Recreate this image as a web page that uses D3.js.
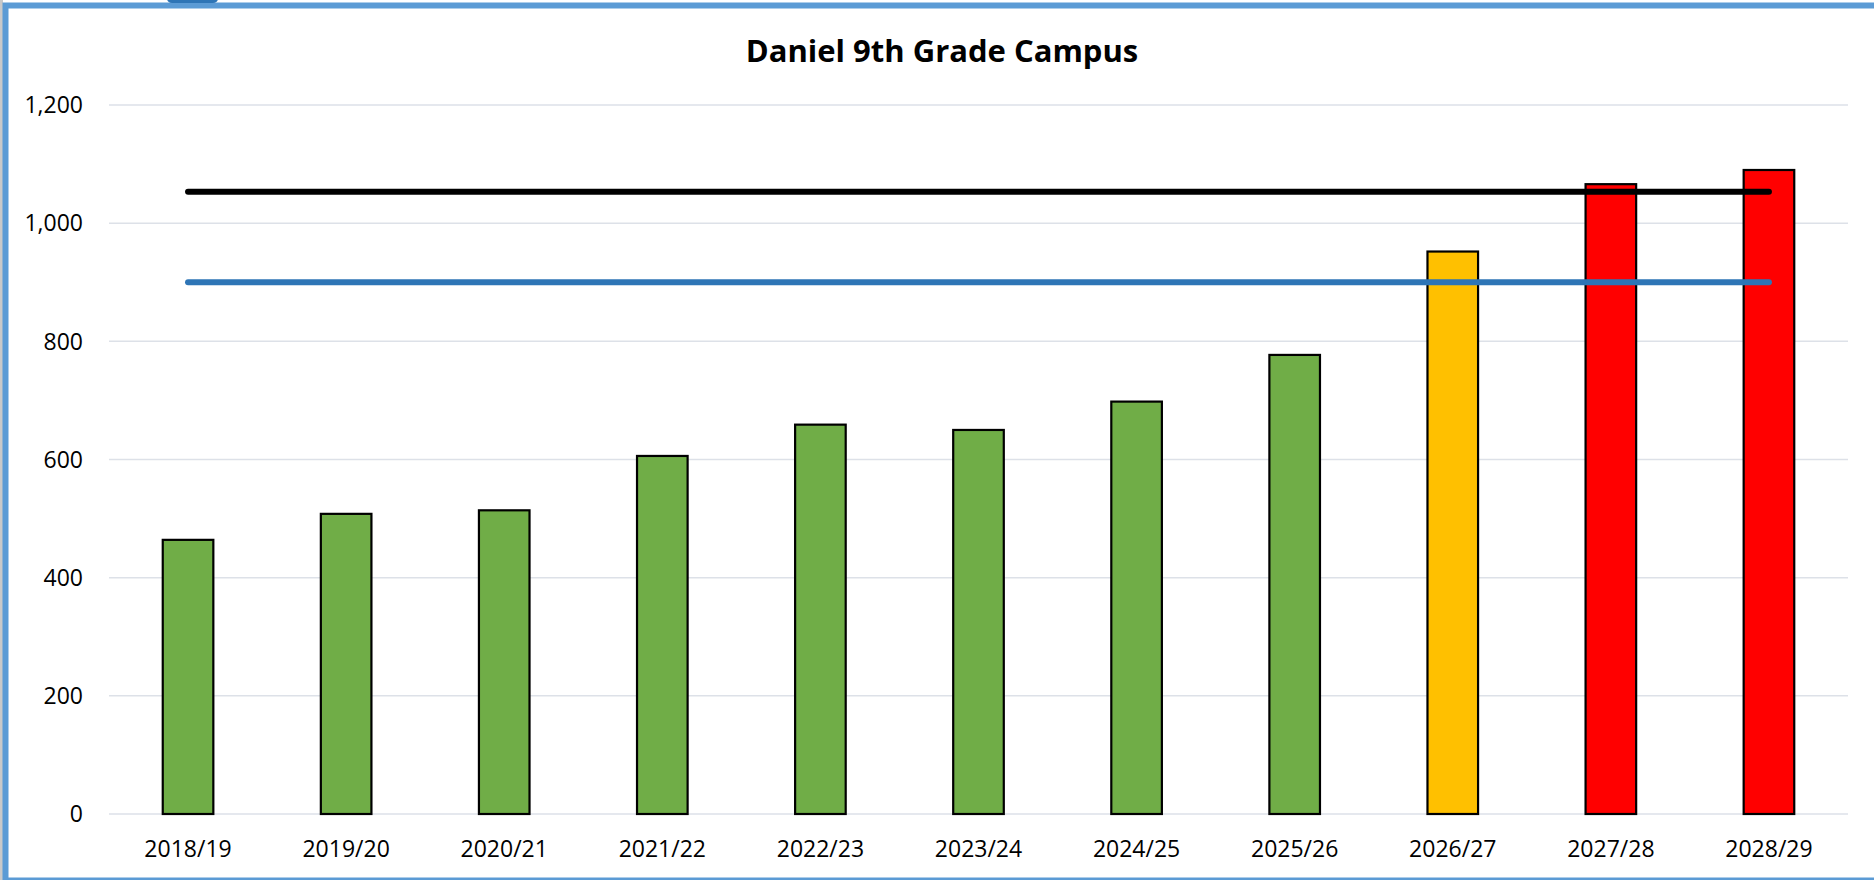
<!DOCTYPE html>
<html>
<head>
<meta charset="utf-8">
<script src="https://cdn.jsdelivr.net/npm/d3@7"></script>
<style>
  body { margin: 0; background: #fff; overflow: hidden; }
  text { font-family: "Open Sans", "Noto Sans", sans-serif; fill: #000; }
</style>
</head>
<body>
<div id="wrapper"></div>
<script>
// data
var YEARS = ["2018/19", "2019/20", "2020/21", "2021/22", "2022/23", "2023/24",
             "2024/25", "2025/26", "2026/27", "2027/28", "2028/29"];
var ENROLLMENT = [464, 508, 514, 606, 659, 650, 698, 777, 952, 1066, 1090];
var BAR_COLORS = ["#70ad47", "#70ad47", "#70ad47", "#70ad47", "#70ad47", "#70ad47",
                  "#70ad47", "#70ad47", "#ffc000", "#ff0000", "#ff0000"];
var CAPACITY = 1053;   // black line
var TARGET = 900;      // blue line
var Y_TICKS = [0, 200, 400, 600, 800, 1000, 1200];
var TITLE = "Daniel 9th Grade Campus";

function build() {
    var dimension = {
        width: 1874,
        height: 880,
        margin: { top: 105, right: 26, bottom: 66, left: 109 }
    };

    const svg = d3.select("#wrapper")
        .append("svg")
        .attr("width", dimension.width)
        .attr("height", dimension.height);

    // frame round the chart
    svg.append("rect").attr("x", 0).attr("y", 0).attr("width", 3).attr("height", 880).attr("fill", "#c9c9c9");
    svg.append("rect")
        .attr("x", 5.5).attr("y", 5.5)
        .attr("width", 1900).attr("height", 875)
        .attr("fill", "#fff")
        .attr("stroke", "#5b9bd5")
        .attr("stroke-width", 6);
    svg.append("rect").attr("x", 167).attr("y", -6).attr("width", 51).attr("height", 9)
        .attr("rx", 5).attr("fill", "#2e75b6");

    const x = d3.scaleBand()
        .domain(YEARS)
        .range([dimension.margin.left, dimension.width - dimension.margin.right])
        .paddingInner(0.68)
        .paddingOuter(0.34);

    const y = d3.scaleLinear()
        .domain([0, 1200])
        .range([dimension.height - dimension.margin.bottom, dimension.margin.top]);

    // gridlines
    svg.append("g")
        .selectAll("line")
        .data(Y_TICKS)
        .enter()
        .append("line")
        .attr("x1", dimension.margin.left)
        .attr("x2", dimension.width - dimension.margin.right)
        .attr("y1", d => y(d))
        .attr("y2", d => y(d))
        .attr("stroke", "#dde1e8")
        .attr("stroke-width", 1.5);

    // y labels
    svg.append("g")
        .selectAll("text")
        .data(Y_TICKS)
        .enter()
        .append("text")
        .attr("x", 83)
        .attr("y", d => y(d))
        .attr("dy", "0.36em")
        .style("text-anchor", "end")
        .style("font-size", "23px")
        .text(d => d3.format(",")(d));

    // bars
    svg.append("g")
        .selectAll("rect")
        .data(ENROLLMENT)
        .enter()
        .append("rect")
        .attr("x", (d, i) => x(YEARS[i]))
        .attr("y", d => y(d))
        .attr("width", x.bandwidth())
        .attr("height", d => y(0) - y(d))
        .attr("fill", (d, i) => BAR_COLORS[i])
        .attr("stroke", "#000")
        .attr("stroke-width", 2.2);

    // x labels
    svg.append("g")
        .selectAll("text")
        .data(YEARS)
        .enter()
        .append("text")
        .attr("x", d => x(d) + x.bandwidth() / 2)
        .attr("y", 857)
        .style("text-anchor", "middle")
        .style("font-size", "23px")
        .text(d => d);

    // horizontal reference lines
    var first = x(YEARS[0]) + x.bandwidth() / 2;
    var last = x(YEARS[YEARS.length - 1]) + x.bandwidth() / 2;
    [[CAPACITY, "#000"], [TARGET, "#2e75b6"]].forEach(([v, c]) => {
        svg.append("line")
            .attr("x1", first).attr("x2", last)
            .attr("y1", y(v)).attr("y2", y(v))
            .attr("stroke", c)
            .attr("stroke-width", 6)
            .attr("stroke-linecap", "round");
    });

    svg.append("text")
        .attr("x", 942)
        .attr("y", 62)
        .style("text-anchor", "middle")
        .style("font-size", "31px")
        .style("font-weight", "bold")
        .text(TITLE);
}

build();
</script>
</body>
</html>
